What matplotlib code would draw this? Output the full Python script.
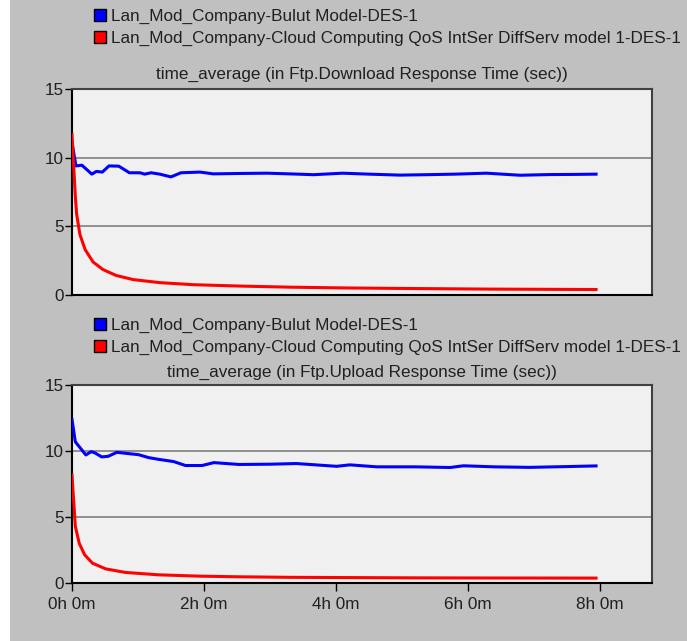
import matplotlib.pyplot as plt
from matplotlib.lines import Line2D
from matplotlib.patches import Rectangle

# time in hours, values in seconds
dl_blue_t = [0.0, 0.06, 0.15, 0.22, 0.30, 0.37, 0.46, 0.56, 0.71, 0.87, 1.03, 1.10, 1.20,
             1.33, 1.50, 1.65, 1.94, 2.14, 2.55, 2.95, 3.30, 3.66, 4.10, 4.50, 4.97, 5.37,
             5.80, 6.28, 6.79, 7.24, 7.60, 7.94]
dl_blue_v = [11.1, 9.4, 9.45, 9.15, 8.8, 9.0, 8.95, 9.4, 9.38, 8.9, 8.9, 8.8, 8.9,
             8.8, 8.6, 8.9, 8.95, 8.82, 8.85, 8.87, 8.82, 8.76, 8.87, 8.8, 8.73, 8.76,
             8.8, 8.87, 8.72, 8.77, 8.78, 8.8]
dl_red_t = [0.0, 0.03, 0.05, 0.07, 0.12, 0.20, 0.32, 0.47, 0.67, 0.93, 1.33, 1.84, 2.55,
            3.3, 4.2, 5.2, 6.3, 7.94]
dl_red_v = [11.7, 9.0, 7.2, 5.9, 4.4, 3.3, 2.4, 1.85, 1.42, 1.12, 0.9, 0.75, 0.65,
            0.57, 0.51, 0.47, 0.43, 0.4]

ul_blue_t = [0.0, 0.05, 0.13, 0.21, 0.29, 0.35, 0.45, 0.55, 0.68, 0.86, 1.01, 1.16, 1.31,
             1.54, 1.72, 1.97, 2.15, 2.53, 3.00, 3.40, 4.01, 4.21, 4.62, 5.20, 5.73, 5.93,
             6.40, 6.94, 7.50, 7.94]
ul_blue_v = [12.4, 10.7, 10.2, 9.7, 9.95, 9.85, 9.55, 9.6, 9.9, 9.8, 9.72, 9.5, 9.37,
             9.2, 8.9, 8.9, 9.12, 8.98, 9.0, 9.05, 8.84, 8.95, 8.8, 8.8, 8.75, 8.88,
             8.8, 8.76, 8.82, 8.87]
ul_red_t = [0.0, 0.02, 0.035, 0.05, 0.11, 0.19, 0.31, 0.51, 0.81, 1.31, 1.92, 2.53,
            3.3, 4.2, 5.2, 6.3, 7.94]
ul_red_v = [8.2, 6.6, 5.5, 4.3, 3.0, 2.15, 1.5, 1.07, 0.8, 0.62, 0.52, 0.47,
            0.43, 0.41, 0.39, 0.38, 0.37]

legend_labels = ['Lan_Mod_Company-Bulut Model-DES-1',
                 'Lan_Mod_Company-Cloud Computing QoS IntSer DiffServ model 1-DES-1']
titles = ['time_average (in Ftp.Download Response Time (sec))',
          'time_average (in Ftp.Upload Response Time (sec))']
xticks = [0, 2, 4, 6, 8]
xticklabels = ['0h 0m', '2h 0m', '4h 0m', '6h 0m', '8h 0m']
yticks = [0, 5, 10, 15]

plt.rcParams['font.family'] = ['Liberation Sans', 'DejaVu Sans']
fs = 12.3

W, H = 687, 641
fig = plt.figure(figsize=(W / 100, H / 100), dpi=100)
fig.patch.set_facecolor('#c0c0c0')
fig.patches.append(Rectangle((0, 0), 10 / W, 1, transform=fig.transFigure,
                             facecolor='white', edgecolor='none', zorder=0))

ax1 = fig.add_axes([72 / W, 1 - 295 / H, 580 / W, 206 / H])
ax2 = fig.add_axes([72 / W, 1 - 583 / H, 580 / W, 198 / H])

data = [(ax1, dl_blue_t, dl_blue_v, dl_red_t, dl_red_v),
        (ax2, ul_blue_t, ul_blue_v, ul_red_t, ul_red_v)]
leg_y = [0, 309]
title_pad = [7, 6]

for i, (ax, bt, bv, rt, rv) in enumerate(data):
    ax.set_facecolor('#f0f0f0')
    for g in [5, 10]:
        ax.axhline(g, color='#808080', lw=1.2, zorder=1)
    ax.plot(bt, bv, color='#0000ff', lw=2.2, zorder=3)
    ax.plot(rt, rv, color='#ff0000', lw=2.2, zorder=3)
    ax.set_xlim(0, 580 / 66)
    ax.set_ylim(0, 15)
    ax.set_yticks(yticks)
    ax.set_yticklabels([str(v) for v in yticks], fontsize=fs, color='#202020')
    ax.tick_params(axis='y', length=5, width=1, pad=1, color='black')
    if i == 0:
        ax.set_xticks([])
    else:
        ax.set_xticks(xticks)
        ax.set_xticklabels(xticklabels, fontsize=fs, color='#202020')
        ax.tick_params(axis='x', length=6, width=1, pad=4, color='black')
    for s in ['left', 'bottom']:
        ax.spines[s].set_color('black')
        ax.spines[s].set_linewidth(1.5)
    for s in ['top', 'right']:
        ax.spines[s].set_color('#404040')
        ax.spines[s].set_linewidth(1.5)
    ax.set_title(titles[i], fontsize=fs, color='#202020', pad=title_pad[i])

    handles = [Line2D([], [], marker='s', linestyle='none', markersize=8,
                      markerfacecolor=c, markeredgecolor='black', markeredgewidth=1)
               for c in ['#0000ff', '#ff0000']]
    ax.legend(handles, legend_labels, loc='upper left',
              bbox_to_anchor=(86 / W, 1 - leg_y[i] / H), bbox_transform=fig.transFigure,
              frameon=False, fontsize=fs, handlelength=0.6, handletextpad=0.35,
              labelspacing=0.43, borderpad=0, labelcolor='#202020')

fig.savefig('out.png', dpi=100, facecolor=fig.get_facecolor())
